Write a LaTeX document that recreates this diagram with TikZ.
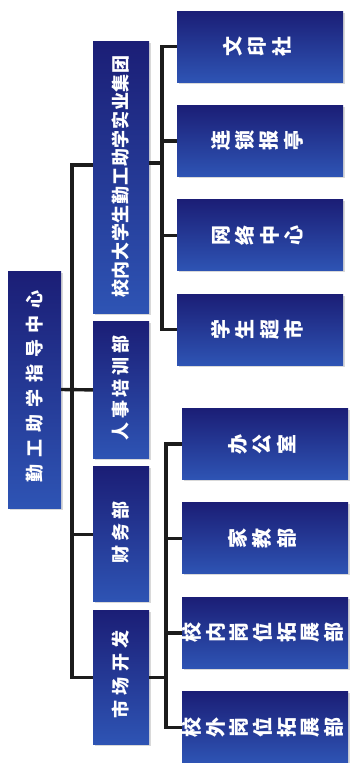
\documentclass[tikz,border=0pt]{standalone}
\usepackage{fontspec}
\usepackage{graphicx}
\newfontfamily\cjk{Noto Sans CJK SC}
\usetikzlibrary{positioning,shadows}

\definecolor{boxtop}{HTML}{1B1E76}
\definecolor{boxbot}{HTML}{2E54B4}
\definecolor{wire}{HTML}{1C1C1C}

\newcommand\across[2][0]{\rotatebox{90}{\addfontfeature{LetterSpace=#1}#2\kern-\dimexpr #1em/100\relax}}
\newcommand\upcol[2][1]{\rotatebox{90}{\renewcommand\arraystretch{#1}\begin{tabular}{@{}c@{}}#2\end{tabular}}}

\begin{document}
\begin{tikzpicture}[x=1pt,y=-1pt,node distance=23pt]

  \tikzstyle{every node}=[font=\cjk\bfseries\fontsize{18}{22}\selectfont,text=white]
  \tikzstyle{unit}=[rectangle,inner sep=0pt,top color=boxtop,bottom color=boxbot,
                    drop shadow={opacity=0.3,shadow xshift=1.5pt,shadow yshift=-1.5pt}]
  \tikzstyle{leaf}=[unit,minimum width=166pt,minimum height=71pt,
                    font=\cjk\bfseries\fontsize{20}{22}\selectfont]
  \tikzstyle{dept}=[unit,minimum width=56pt]
  \tikzstyle{link}=[draw=wire,line width=3.4pt]

  \useasboundingbox (0,0) rectangle (352,763);

  \node[unit,minimum width=53pt,minimum height=237pt] (CTR) at (34.5,389.5) {\across[38]{勤工助学指导中心}};

  \node[dept,minimum height=272pt] (GRP) at (121,177)  {\across[4]{校内大学生勤工助学实业集团}};
  \node[dept,minimum height=137pt] (HR)  [below=8pt of GRP] {\across[20]{人事培训部}};
  \node[dept,minimum height=135pt] (FIN) [below=8pt of HR]  {\across[20]{财务部}};
  \node[dept,minimum height=134pt] (MKT) [below=8pt of FIN] {\across[30]{市场开发}};

  \node[leaf] (PRT) at (260,46.5)   {\upcol[1.09]{文\\印\\社}};
  \node[leaf] (KSK) [below=of PRT]  {\upcol[1.09]{连\\锁\\报\\亭}};
  \node[leaf] (NET) [below=of KSK]  {\upcol[1.09]{网\\络\\中\\心}};
  \node[leaf] (SHP) [below=of NET]  {\upcol[1.09]{学\\生\\超\\市}};

  \node[leaf] (OFC)  at (265,444)    {\upcol[1.09]{办\\公\\室}};
  \node[leaf] (TUT)  [below=of OFC]  {\upcol[1.09]{家\\教\\部}};
  \node[leaf] (INJ)  [below=of TUT]  {\upcol{校\\内\\岗\\位\\拓\\展\\部}};
  \node[leaf] (OUTJ) [below=of INJ]  {\upcol{校\\外\\岗\\位\\拓\\展\\部}};

  \coordinate (JA) at (72,165);
  \coordinate (JB) at (162,163);
  \coordinate (JC) at (166,0);

  \draw[link] (CTR.east) -- (HR.west);
  \draw[link] (GRP.west |- JA) -- (JA) |- (MKT.west);
  \draw[link] (JA |- FIN.west) -- (FIN.west);

  \draw[link] (GRP.east |- JB) -- (JB);
  \draw[link] (PRT.west) -- (PRT.west -| JB) -- (JB |- SHP.west) -- (SHP.west);
  \foreach \n in {KSK,NET}
    \draw[link] (\n.west -| JB) -- (\n.west);

  \draw[link] (MKT.east) -- (MKT.east -| JC);
  \draw[link] (OFC.west) -- (OFC.west -| JC) -- (JC |- OUTJ.west) -- (OUTJ.west);
  \foreach \n in {TUT,INJ}
    \draw[link] (\n.west -| JC) -- (\n.west);

\end{tikzpicture}
\end{document}
